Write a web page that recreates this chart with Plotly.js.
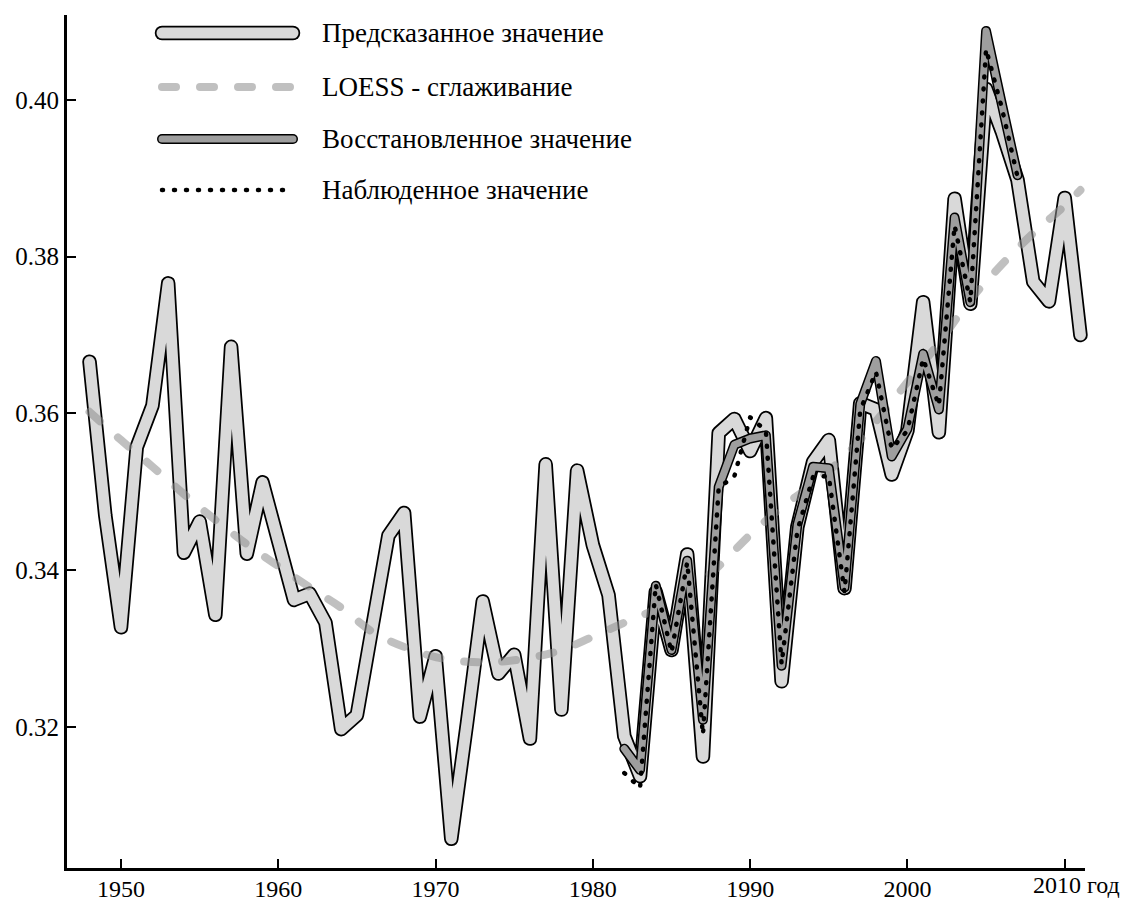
<!DOCTYPE html>
<html>
<head>
<meta charset="utf-8">
<script src="https://cdn.plot.ly/plotly-3.0.1.min.js"></script>
<style>
html,body{margin:0;padding:0;background:#fff;}
#chart{width:1134px;height:904px;}
</style>
</head>
<body>
<div id="chart"></div>
<script>
// ---- Data ----
const yearsPred = [1948,1949,1950,1951,1952,1953,1954,1955,1956,1957,1958,1959,1960,1961,1962,1963,1964,1965,1966,1967,1968,1969,1970,1971,1972,1973,1974,1975,1976,1977,1978,1979,1980,1981,1982,1983,1984,1985,1986,1987,1988,1989,1990,1991,1992,1993,1994,1995,1996,1997,1998,1999,2000,2001,2002,2003,2004,2005,2006,2007,2008,2009,2010,2011];
const predicted = [0.3666,0.3470,0.3327,0.3557,0.3610,0.3766,0.3422,0.3462,0.3343,0.3685,0.3421,0.3512,0.3437,0.3362,0.3370,0.3333,0.3197,0.3215,0.3330,0.3444,0.3473,0.3213,0.3290,0.3057,0.3205,0.3360,0.3268,0.3292,0.3185,0.3535,0.3222,0.3527,0.3432,0.3368,0.3188,0.3137,0.3372,0.3298,0.3420,0.3162,0.3575,0.3593,0.3552,0.3594,0.3258,0.3455,0.3538,0.3566,0.3377,0.3613,0.3605,0.3522,0.3578,0.3742,0.3576,0.3874,0.3740,0.4014,0.3960,0.3898,0.3768,0.3743,0.3875,0.3700];

const yearsObs = [1982,1983,1984,1985,1986,1987,1988,1989,1990,1991,1992,1993,1994,1995,1996,1997,1998,1999,2000,2001,2002,2003,2004,2005,2006,2007];
const restored = [0.3172,0.3145,0.3380,0.3298,0.3412,0.3209,0.3506,0.3560,0.3568,0.3572,0.3278,0.3458,0.3532,0.3530,0.3378,0.3612,0.3667,0.3545,0.3580,0.3676,0.3605,0.3850,0.3742,0.4088,0.3995,0.3904];
const observed = [0.3141,0.3122,0.3382,0.3295,0.3410,0.3190,0.3505,0.3520,0.3595,0.3578,0.3280,0.3450,0.3519,0.3520,0.3372,0.3604,0.3653,0.3555,0.3578,0.3670,0.3610,0.3840,0.3742,0.4065,0.3990,0.3902];

const yearsLoess = [1948,1950,1952,1954,1956,1958,1960,1962,1964,1966,1968,1970,1972,1974,1976,1978,1980,1982,1984,1986,1988,1990,1992,1994,1996,1998,2000,2002,2004,2006,2008,2010,2011];
const loess = [0.3602,0.3566,0.3532,0.3497,0.3464,0.3433,0.3405,0.3378,0.3352,0.3321,0.3302,0.3289,0.3283,0.3283,0.3288,0.3298,0.3315,0.3333,0.3350,0.3372,0.3405,0.3445,0.3480,0.3510,0.3545,0.3590,0.3640,0.3690,0.3745,0.3790,0.3830,0.3865,0.3885];

const xTicks = [1950,1960,1970,1980,1990,2000,2010];
const xTickText = ['1950','1960','1970','1980','1990','2000',''];
const lastTickLabel = '2010 год';
const yTicks = [0.32,0.34,0.36,0.38,0.40];
const yTickText = ['0.32','0.34','0.36','0.38','0.40'];
const legendLabels = ['Предсказанное значение','LOESS - сглаживание','Восстановленное значение','Наблюденное значение'];

// ---- Styles ----
const FONT = '"Liberation Serif", "DejaVu Serif", serif';
const FS_X = 24;
const FS_Y = 25;
const FS_LEG = 27;
const PRED_FILL = '#d9d9d9';
const REST_FILL = '#9e9e9e';
const LOESS_COL = 'rgba(140,140,140,0.55)';
const LOESS_DASH = '14px,24px';
const OBS_DASH = '1px,11px';

const traces = [
  {x: yearsPred, y: predicted, mode:'lines', line:{color:'#000', width:14.5}, hoverinfo:'skip', showlegend:false},
  {x: yearsPred, y: predicted, mode:'lines', line:{color:PRED_FILL, width:11}, hoverinfo:'skip', showlegend:false},
  {x: yearsLoess, y: loess, mode:'lines', line:{color:LOESS_COL, width:8, dash:LOESS_DASH, shape:'spline', smoothing:1}, hoverinfo:'skip', showlegend:false},
  {x: yearsObs, y: restored, mode:'lines', line:{color:'#000', width:10}, hoverinfo:'skip', showlegend:false},
  {x: yearsObs, y: restored, mode:'lines', line:{color:REST_FILL, width:7}, hoverinfo:'skip', showlegend:false},
  {x: yearsObs, y: observed, mode:'lines', line:{color:'#000', width:4.5, dash:OBS_DASH}, hoverinfo:'skip', showlegend:false}
];

// plot area in pixels
const L = 67, R = 1085, T = 15, B = 868;
const W = 1134, H = 904;
const px2x = p => (p - L) / (R - L);
const px2y = p => (B - p) / (B - T);

const legRows = [33, 87, 139, 190];
const lx0 = px2x(162), lx1 = px2x(293);
const shapes = [];
function seg(row, color, width, dash){
  shapes.push({type:'line', xref:'paper', yref:'paper', x0:lx0, x1:lx1, y0:px2y(row), y1:px2y(row),
    line:{color:color, width:width, dash:dash||'solid'}});
}
seg(legRows[0], '#000', 14.5); seg(legRows[0], PRED_FILL, 11);
seg(legRows[1], LOESS_COL, 8, LOESS_DASH);
seg(legRows[2], '#000', 10); seg(legRows[2], REST_FILL, 7);
seg(legRows[3], '#000', 4.5, OBS_DASH);

const annotations = legendLabels.map((t,i)=>({
  xref:'paper', yref:'paper', x:px2x(320), y:px2y(legRows[i]), xanchor:'left', yanchor:'middle',
  text:t, showarrow:false, font:{family:FONT, size:FS_LEG, color:'#000'}
}));
annotations.push({xref:'paper', yref:'paper', x:px2x(1031), y:px2y(885), xanchor:'left', yanchor:'middle',
  text:lastTickLabel, showarrow:false, font:{family:FONT, size:FS_X, color:'#000'}});

const layout = {
  width: W, height: H,
  margin:{l:L, r:W-R, t:T, b:H-B, pad:0},
  paper_bgcolor:'#fff', plot_bgcolor:'#fff',
  showlegend:false,
  font:{family:FONT, size:FS_X, color:'#000'},
  xaxis:{range:[1946.567, 2011.29], tickvals:xTicks, ticktext:xTickText, ticks:'inside', ticklen:9, tickwidth:2, tickcolor:'#000',
    showline:true, linecolor:'#000', linewidth:3, showgrid:false, zeroline:false, ticklabelstandoff:-3,
    tickfont:{family:FONT, size:FS_X, color:'#000'}, fixedrange:true},
  yaxis:{range:[0.30198, 0.41085], tickvals:yTicks, ticktext:yTickText, ticks:'inside', ticklen:9, tickwidth:2, tickcolor:'#000',
    showline:true, linecolor:'#000', linewidth:3, showgrid:false, zeroline:false,
    tickfont:{family:FONT, size:FS_Y, color:'#000'}, fixedrange:true},
  shapes: shapes,
  annotations: annotations
};

function finish(){
  document.querySelectorAll('.js-line, .shapelayer path').forEach(p=>{
    p.style.strokeLinecap = 'round';
    p.style.strokeLinejoin = 'round';
  });
  document.querySelectorAll('.cartesianlayer [clip-path], .cartesianlayer [style*="clip-path"]').forEach(g=>{
    g.removeAttribute('clip-path');
    g.style.clipPath = 'none';
  });
}
Plotly.newPlot('chart', traces, layout, {displayModeBar:false, staticPlot:true}).then(()=>{
  finish();
  setTimeout(finish, 50);
});
</script>
</body>
</html>
